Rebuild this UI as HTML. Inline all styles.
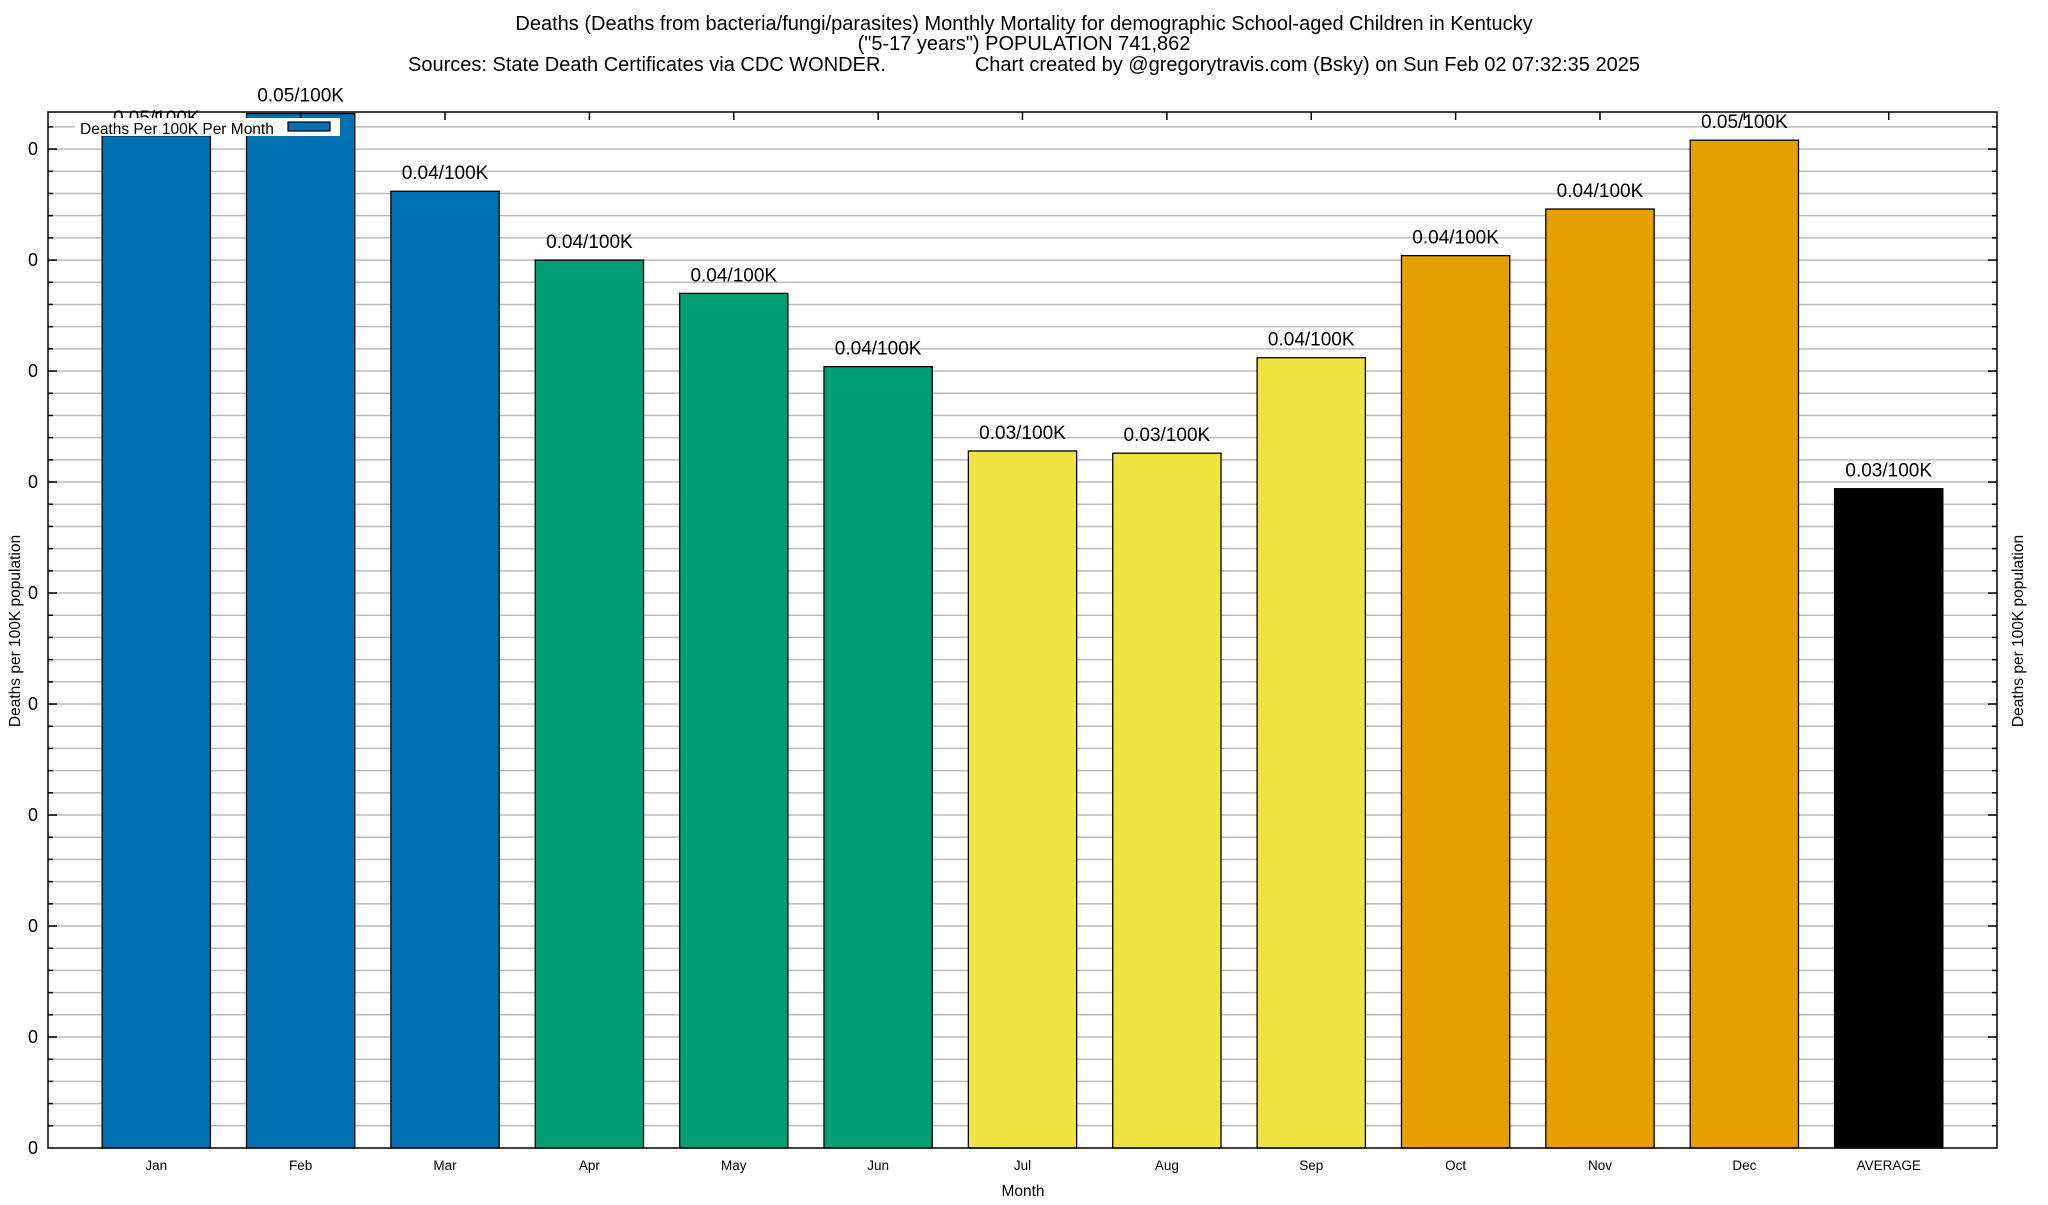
<!DOCTYPE html>
<html><head><meta charset="utf-8"><style>
body{margin:0;background:#fff}
svg text{font-family:"Liberation Sans",Arial,sans-serif;fill:#000}
</style></head><body>
<svg id="chart" width="2048" height="1200" xmlns="http://www.w3.org/2000/svg">
<text x="1024" y="30" font-size="20" text-anchor="middle">Deaths (Deaths from bacteria/fungi/parasites) Monthly Mortality for demographic School-aged Children in Kentucky</text>
<text x="1024" y="50" font-size="20" text-anchor="middle">("5-17 years") POPULATION 741,862</text>
<text x="1024" y="71" font-size="20" text-anchor="middle" xml:space="preserve">Sources: State Death Certificates via CDC WONDER.                Chart created by @gregorytravis.com (Bsky) on Sun Feb 02 07:32:35 2025</text>
<g id="grid"></g>
<g id="bars"></g>
<rect x="48" y="112" width="1949" height="1036" fill="none" stroke="#000" stroke-width="1.5"/>
<g id="legend">
<rect x="75" y="118" width="265" height="18" fill="#fff"/>
<text x="80" y="134" font-size="15.5">Deaths Per 100K Per Month</text>
<rect x="288" y="122" width="42" height="9" fill="#0072b2" stroke="#000" stroke-width="1.2"/>
</g>
<text transform="translate(20,631) rotate(-90)" font-size="15.5" text-anchor="middle">Deaths per 100K population</text>
<text transform="translate(2023,631) rotate(-90)" font-size="15.5" text-anchor="middle">Deaths per 100K population</text>
<text x="1023" y="1196" font-size="15.5" text-anchor="middle">Month</text>
</svg>
<script>
const categories=["Jan","Feb","Mar","Apr","May","Jun","Jul","Aug","Sep","Oct","Nov","Dec","AVERAGE"];
const values=[0.0456,0.0466,0.0431,0.0400,0.0385,0.0352,0.0314,0.0313,0.0356,0.0402,0.0423,0.0454,0.0297];
const valueLabels=["0.05/100K","0.05/100K","0.04/100K","0.04/100K","0.04/100K","0.04/100K","0.03/100K","0.03/100K","0.04/100K","0.04/100K","0.04/100K","0.05/100K","0.03/100K"];
const barColors=["#0072b2","#0072b2","#0072b2","#009e73","#009e73","#009e73","#f0e442","#f0e442","#f0e442","#e69f00","#e69f00","#e69f00","#000000"];
const yTickLabels=["0","0","0","0","0","0","0","0","0","0"];
const yMax=0.04667,yMajor=0.005,yMinor=0.001;
const L=48,R=1997,T=112,B=1148;
const NS="http://www.w3.org/2000/svg";
function xs(i){return L+(i+0.75)/13.5*(R-L);}
function ys(v){return B-v/yMax*(B-T);}
function mk(tag,attrs,parent){const e=document.createElementNS(NS,tag);for(const k in attrs)e.setAttribute(k,attrs[k]);parent.appendChild(e);return e;}
const grid=document.getElementById('grid'),bars=document.getElementById('bars');
for(let k=1;k*yMinor<=yMax+1e-9;k++){
 const y=ys(k*yMinor);
 const g=mk('line',{x1:L,x2:R,y1:y,y2:y,stroke:'#bbb','stroke-width':1.5},grid);
 
 
 const major=(k%5===0);const len=major?9:5;
 mk('line',{x1:L,x2:L+len,y1:y,y2:y,stroke:'#000','stroke-width':1.5},grid);
 mk('line',{x1:R-len,x2:R,y1:y,y2:y,stroke:'#000','stroke-width':1.5},grid);
}
yTickLabels.forEach((t,i)=>{
 const y=ys(i*yMajor);
 const tx=mk('text',{x:38,y:y+6,'font-size':18,'text-anchor':'end'},grid);
 tx.textContent=t;
 
 
});
categories.forEach((c,i)=>{
 const cx=xs(i),w=0.75/13.5*(R-L);
 const top=Math.max(ys(values[i]),T);
 const r=mk('rect',{x:cx-w/2,y:top,width:w,height:B-top,fill:barColors[i],stroke:'#000','stroke-width':1.3},bars);
 
 
 const lb=mk('text',{x:cx,y:ys(values[i])-12,'font-size':19,'text-anchor':'middle'},bars);
 lb.textContent=valueLabels[i];
 
 
 const xl=mk('text',{x:cx,y:1170,'font-size':13.5,'text-anchor':'middle'},bars);
 xl.textContent=c;
 
 
 mk('line',{x1:cx,x2:cx,y1:T,y2:T+8,stroke:'#000','stroke-width':1.5},bars);
});
</script>
</body></html>
